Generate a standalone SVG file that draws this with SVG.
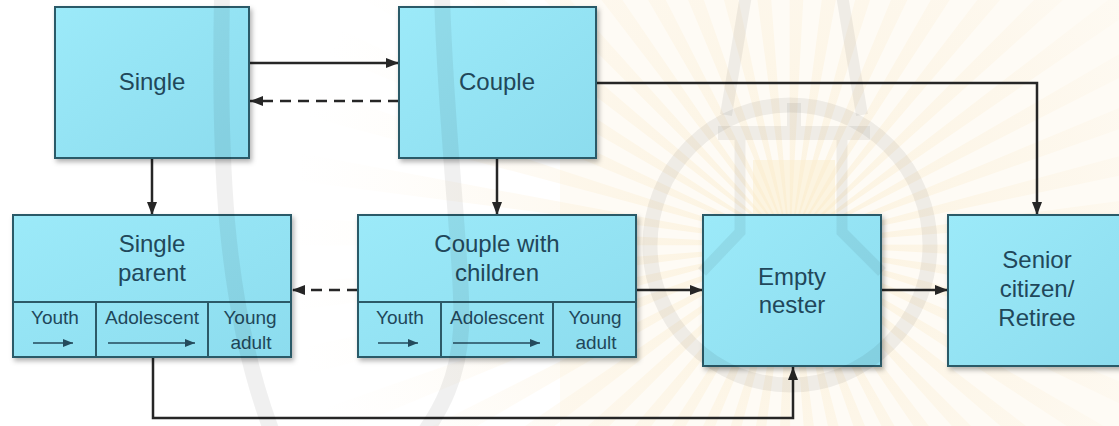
<svg xmlns="http://www.w3.org/2000/svg" width="1119" height="426" viewBox="0 0 1119 426">
  <style>
    .box { fill: url(#boxFill); stroke: #2c5a68; stroke-width: 2; filter: url(#shadow); }
    .div { stroke: #2c5a68; stroke-width: 2; fill: none; }
    .lbl { font-family: "Liberation Sans", Arial, sans-serif; font-size: 24px; fill: #21475a; text-anchor: middle; }
    .cell { font-family: "Liberation Sans", Arial, sans-serif; font-size: 19px; fill: #21475a; text-anchor: middle; }
    .conn { fill: none; stroke: #262626; stroke-width: 2.5; }
    .dash { stroke-dasharray: 11 7; }
    .tiny { fill: none; stroke: #234a5c; stroke-width: 1.6; marker-end: url(#smallHead); }
    .wm { fill: none; stroke: #000; stroke-opacity: 0.06; }
  </style>
  <defs>
    <linearGradient id="boxFill" x1="0" y1="0" x2="1" y2="1">
      <stop offset="0" stop-color="#9ceaf9"/>
      <stop offset="1" stop-color="#8cdcee"/>
    </linearGradient>
    <radialGradient id="rayFade" gradientUnits="userSpaceOnUse" cx="790" cy="245" r="500">
      <stop offset="0" stop-color="#f8e3b4" stop-opacity="0.35"/>
      <stop offset="0.6" stop-color="#fbecd0" stop-opacity="0.22"/>
      <stop offset="1" stop-color="#fdf3e2" stop-opacity="0"/>
    </radialGradient>
    <filter id="shadow" x="-10%" y="-10%" width="125%" height="130%">
      <feDropShadow dx="2" dy="3" stdDeviation="2.5" flood-color="#000" flood-opacity="0.3"/>
    </filter>
    <marker id="head" markerUnits="userSpaceOnUse" markerWidth="13" markerHeight="10" refX="13" refY="5" orient="auto">
      <path d="M0,0 L13,5 L0,10 z" fill="#262626"/>
    </marker>
    <marker id="smallHead" markerUnits="userSpaceOnUse" markerWidth="10" markerHeight="8" refX="10" refY="4" orient="auto">
      <path d="M0,0 L10,4 L0,8 z" fill="#234a5c"/>
    </marker>
  </defs>

  <rect width="1119" height="426" fill="#ffffff"/>

  <!-- pale sunburst behind the page content -->
  <g id="backdrop">
    <rect x="560" y="0" width="559" height="426" fill="#fdf8ef" opacity="0.6"/>
    <circle cx="790" cy="245" r="250" fill="none" stroke="url(#rayFade)" stroke-width="500" stroke-dasharray="14 18.7"/>
    <rect x="753" y="160" width="82" height="75" fill="#fbecc8" opacity="0.45"/>
  </g>

  <!-- connectors -->
  <g id="connectors">
    <path class="conn" d="M249 63 H399" marker-end="url(#head)"/>
    <path class="conn dash" d="M399 101 H250" marker-end="url(#head)"/>
    <path class="conn" d="M152 158 V215" marker-end="url(#head)"/>
    <path class="conn" d="M497 158 V215" marker-end="url(#head)"/>
    <path class="conn" d="M596 83 H1037 V215" marker-end="url(#head)"/>
    <path class="conn dash" d="M358 290 H292" marker-end="url(#head)"/>
    <path class="conn" d="M636 290 H703" marker-end="url(#head)"/>
    <path class="conn" d="M881 290 H948" marker-end="url(#head)"/>
    <path class="conn" d="M153 357 V418 H793 V367" marker-end="url(#head)"/>
  </g>

  <g id="single">
    <rect class="box" x="55" y="7" width="194" height="151"/>
    <text class="lbl" x="152" y="90">Single</text>
  </g>

  <g id="couple">
    <rect class="box" x="399" y="7" width="197" height="151"/>
    <text class="lbl" x="497" y="90">Couple</text>
  </g>

  <g id="single-parent">
    <rect class="box" x="13" y="215" width="278" height="142"/>
    <path class="div" d="M13 302 H291 M96 302 V357 M208 302 V357"/>
    <text class="lbl" x="152" y="252">Single</text>
    <text class="lbl" x="152" y="281">parent</text>
    <text class="cell" x="55" y="324">Youth</text>
    <path class="tiny" d="M33 343 H73"/>
    <text class="cell" x="152" y="324">Adolescent</text>
    <path class="tiny" d="M108 343 H195"/>
    <text class="cell" x="250" y="324">Young</text>
    <text class="cell" x="251" y="349">adult</text>
  </g>

  <g id="couple-with-children">
    <rect class="box" x="358" y="215" width="278" height="142"/>
    <path class="div" d="M358 302 H636 M441 302 V357 M553 302 V357"/>
    <text class="lbl" x="497" y="252">Couple with</text>
    <text class="lbl" x="497" y="281">children</text>
    <text class="cell" x="400" y="324">Youth</text>
    <path class="tiny" d="M378 343 H418"/>
    <text class="cell" x="497" y="324">Adolescent</text>
    <path class="tiny" d="M453 343 H540"/>
    <text class="cell" x="595" y="324">Young</text>
    <text class="cell" x="596" y="349">adult</text>
  </g>

  <g id="empty-nester">
    <rect class="box" x="703" y="215" width="178" height="151"/>
    <text class="lbl" x="792" y="285">Empty</text>
    <text class="lbl" x="792" y="313">nester</text>
  </g>

  <g id="senior">
    <rect class="box" x="948" y="215" width="178" height="151"/>
    <text class="lbl" x="1037" y="268">Senior</text>
    <text class="lbl" x="1037" y="297">citizen/</text>
    <text class="lbl" x="1037" y="326">Retiree</text>
  </g>

  <!-- faint emblem lines laid over the page -->
  <g id="emblem">
    <path class="wm" stroke-width="16" d="M222 -5 C219 150 222 300 272 432"/>
    <path class="wm" stroke-width="16" d="M442 -5 C446 140 464 270 461 330 C458 380 440 410 425 432"/>
    <circle class="wm" stroke-width="15" cx="790" cy="245" r="140"/>
    <path class="wm" stroke-width="12" d="M746 -5 L726 115 M842 -5 L862 115"/>
    <path class="wm" stroke-width="14" d="M718 133 H870 M794 103 V130"/>
    <path class="wm" stroke-width="11" d="M740 140 V232 L702 272 M842 140 V232 L882 272"/>
  </g>
</svg>
